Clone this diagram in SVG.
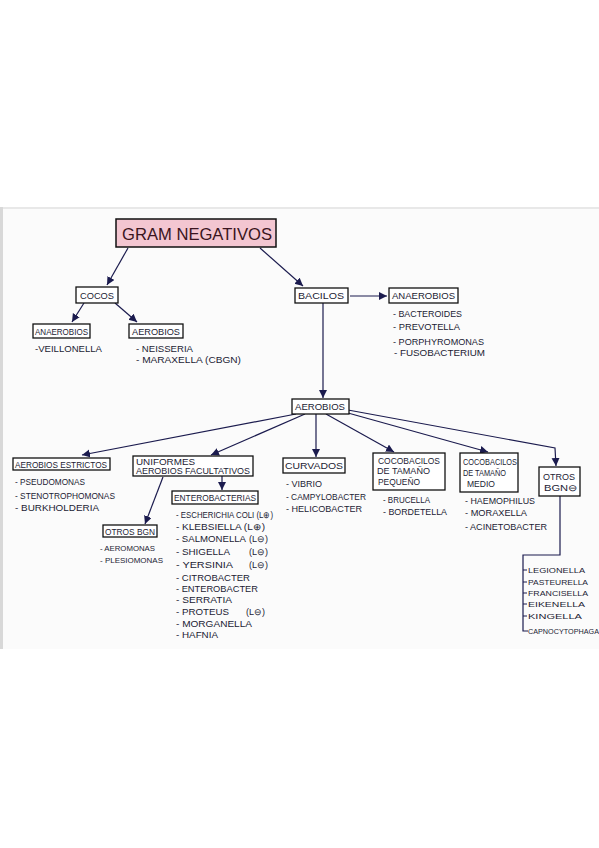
<svg xmlns="http://www.w3.org/2000/svg" width="599" height="848" viewBox="0 0 599 848">
<defs>
<marker id="ah" markerUnits="userSpaceOnUse" markerWidth="9" markerHeight="9" refX="8" refY="4" orient="auto">
<path d="M0,0 L8,4 L0,8 z" fill="#1b1b4e"/>
</marker>
<style>
.box{fill:#fff;stroke:#111;stroke-width:1.3}
.t{font-family:"Liberation Sans",Arial,sans-serif;font-size:9px;fill:#1c1c34}
.c{fill:none;stroke:#1b1b4e;stroke-width:1.2;marker-end:url(#ah)}
.l{fill:none;stroke:#1b1b4e;stroke-width:1.2}
</style>
</defs>
<rect x="0" y="0" width="599" height="848" fill="#fff"/>
<rect x="0" y="207" width="599" height="442" fill="#fbfbfb"/>
<line x1="0" y1="208" x2="599" y2="208" stroke="#e2e2e2" stroke-width="1.5"/>
<rect x="0" y="207" width="3" height="442" fill="#d8d8d8"/>

<g id="connectors">
<path class="c" d="M128,248 L107,285"/>
<path class="c" d="M260,248 L303,286"/>
<path class="c" d="M84,303 L72,322"/>
<path class="c" d="M115,303 L137,322"/>
<path class="c" d="M350,296 L387,296"/>
<path class="c" d="M323,303 L323,398"/>
<path class="c" d="M296,414 L82,455"/>
<path class="c" d="M305,414 L211,455"/>
<path class="c" d="M316,414 L316,457"/>
<path class="c" d="M326,414 L394,452"/>
<path class="c" d="M348,413 L488,452"/>
<path class="c" d="M348,410 L555,448 L556,466"/>
<path class="c" d="M222,476 L222,490"/>
<path class="c" d="M163,477 L145,524"/>
<path class="l" d="M560,496 L560,555 L523,555 L523,631 L528,631"/>
<path class="l" d="M523,570 L527,570 M523,582 L527,582 M523,593 L527,593 M523,604 L527,604 M523,616 L527,616"/>
</g>

<g id="gram-negativos">
<rect x="116" y="219" width="160" height="28" fill="#f3c6d1" stroke="#111" stroke-width="1.5"/>
<text x="122" y="240" style="font-family:'Liberation Sans',Arial,sans-serif;font-size:17px;fill:#3a1420" textLength="150" lengthAdjust="spacingAndGlyphs">GRAM NEGATIVOS</text>
</g>

<g id="cocos">
<rect class="box" x="76" y="287" width="42" height="16"/>
<text class="t" x="80" y="299" textLength="34" lengthAdjust="spacingAndGlyphs">COCOS</text>
</g>

<g id="bacilos">
<rect class="box" x="295" y="288" width="53" height="15"/>
<text class="t" x="298" y="299" textLength="46" lengthAdjust="spacingAndGlyphs">BACILOS</text>
</g>

<g id="anaerobios-bacilos">
<rect class="box" x="389" y="288" width="69" height="15"/>
<text class="t" x="392" y="299" textLength="63" lengthAdjust="spacingAndGlyphs">ANAEROBIOS</text>
<text class="t" x="393" y="317" textLength="69" lengthAdjust="spacingAndGlyphs">- BACTEROIDES</text>
<text class="t" x="393" y="330" textLength="67" lengthAdjust="spacingAndGlyphs">- PREVOTELLA</text>
<text class="t" x="393" y="345" textLength="91" lengthAdjust="spacingAndGlyphs">- PORPHYROMONAS</text>
<text class="t" x="394" y="356" textLength="91" lengthAdjust="spacingAndGlyphs">- FUSOBACTERIUM</text>
</g>

<g id="anaerobios-cocos">
<rect class="box" x="33" y="324" width="57" height="14"/>
<text class="t" x="35" y="335" textLength="53" lengthAdjust="spacingAndGlyphs">ANAEROBIOS</text>
<text class="t" x="35" y="352" textLength="67" lengthAdjust="spacingAndGlyphs">-VEILLONELLA</text>
</g>

<g id="aerobios-cocos">
<rect class="box" x="129" y="324" width="54" height="14"/>
<text class="t" x="132" y="335" textLength="48" lengthAdjust="spacingAndGlyphs">AEROBIOS</text>
<text class="t" x="136" y="352" textLength="57" lengthAdjust="spacingAndGlyphs">- NEISSERIA</text>
<text class="t" x="136" y="363" textLength="105" lengthAdjust="spacingAndGlyphs">- MARAXELLA (CBGN)</text>
</g>

<g id="aerobios-bacilos">
<rect class="box" x="292" y="399" width="57" height="15"/>
<text class="t" x="295" y="410" textLength="50" lengthAdjust="spacingAndGlyphs">AEROBIOS</text>
</g>

<g id="aerobios-estrictos">
<rect class="box" x="13" y="458" width="97" height="12"/>
<text class="t" x="15" y="468" textLength="92" lengthAdjust="spacingAndGlyphs">AEROBIOS ESTRICTOS</text>
<text class="t" x="15" y="485" textLength="70" lengthAdjust="spacingAndGlyphs">- PSEUDOMONAS</text>
<text class="t" x="15" y="499" textLength="100" lengthAdjust="spacingAndGlyphs">- STENOTROPHOMONAS</text>
<text class="t" x="15" y="511" textLength="84" lengthAdjust="spacingAndGlyphs">- BURKHOLDERIA</text>
</g>

<g id="uniformes">
<rect class="box" x="133" y="456" width="120" height="20"/>
<text class="t" x="136" y="465" textLength="59" lengthAdjust="spacingAndGlyphs">UNIFORMES</text>
<text class="t" x="136" y="474" textLength="114" lengthAdjust="spacingAndGlyphs">AEROBIOS FACULTATIVOS</text>
</g>

<g id="enterobacterias">
<rect class="box" x="172" y="491" width="86" height="13"/>
<text class="t" x="174" y="501" textLength="82" lengthAdjust="spacingAndGlyphs">ENTEROBACTERIAS</text>
<text class="t" x="176" y="518" textLength="97" lengthAdjust="spacingAndGlyphs">- ESCHERICHIA COLI (L⊕)</text>
<text class="t" x="176" y="530" textLength="89" lengthAdjust="spacingAndGlyphs">- KLEBSIELLA (L⊕)</text>
<text class="t" x="176" y="542" textLength="70" lengthAdjust="spacingAndGlyphs">- SALMONELLA</text>
<text class="t" x="249" y="542">(L⊖)</text>
<text class="t" x="176" y="555" textLength="54" lengthAdjust="spacingAndGlyphs">- SHIGELLA</text>
<text class="t" x="249" y="555">(L⊖)</text>
<text class="t" x="176" y="568" textLength="57" lengthAdjust="spacingAndGlyphs">- YERSINIA</text>
<text class="t" x="249" y="568">(L⊖)</text>
<text class="t" x="176" y="581" textLength="74" lengthAdjust="spacingAndGlyphs">- CITROBACTER</text>
<text class="t" x="176" y="592" textLength="82" lengthAdjust="spacingAndGlyphs">- ENTEROBACTER</text>
<text class="t" x="176" y="603" textLength="56" lengthAdjust="spacingAndGlyphs">- SERRATIA</text>
<text class="t" x="176" y="615" textLength="53" lengthAdjust="spacingAndGlyphs">- PROTEUS</text>
<text class="t" x="246" y="615">(L⊖)</text>
<text class="t" x="176" y="627" textLength="76" lengthAdjust="spacingAndGlyphs">- MORGANELLA</text>
<text class="t" x="176" y="638" textLength="42" lengthAdjust="spacingAndGlyphs">- HAFNIA</text>
</g>

<g id="otros-bgn">
<rect class="box" x="103" y="525" width="54" height="12"/>
<text class="t" x="105" y="535" textLength="50" lengthAdjust="spacingAndGlyphs">OTROS BGN</text>
<text class="t" x="100" y="551" style="font-size:8px" textLength="55" lengthAdjust="spacingAndGlyphs">- AEROMONAS</text>
<text class="t" x="100" y="563" style="font-size:8px" textLength="63" lengthAdjust="spacingAndGlyphs">- PLESIOMONAS</text>
</g>

<g id="curvados">
<rect class="box" x="283" y="458" width="62" height="15"/>
<text class="t" x="285" y="469" textLength="58" lengthAdjust="spacingAndGlyphs">CURVADOS</text>
<text class="t" x="286" y="487" textLength="36" lengthAdjust="spacingAndGlyphs">- VIBRIO</text>
<text class="t" x="286" y="500" textLength="80" lengthAdjust="spacingAndGlyphs">- CAMPYLOBACTER</text>
<text class="t" x="286" y="512" textLength="76" lengthAdjust="spacingAndGlyphs">- HELICOBACTER</text>
</g>

<g id="cocobacilos-pequeno">
<rect class="box" x="373" y="453" width="72" height="37"/>
<text class="t" x="378" y="464" textLength="62" lengthAdjust="spacingAndGlyphs">COCOBACILOS</text>
<text class="t" x="377" y="474" textLength="53" lengthAdjust="spacingAndGlyphs">DE TAMAÑO</text>
<text class="t" x="378" y="485" textLength="42" lengthAdjust="spacingAndGlyphs">PEQUEÑO</text>
<text class="t" x="383" y="503" textLength="47" lengthAdjust="spacingAndGlyphs">- BRUCELLA</text>
<text class="t" x="383" y="515" textLength="64" lengthAdjust="spacingAndGlyphs">- BORDETELLA</text>
</g>

<g id="cocobacilos-medio">
<rect class="box" x="460" y="453" width="58" height="39"/>
<text class="t" x="463" y="465" textLength="54" lengthAdjust="spacingAndGlyphs">COCOBACILOS</text>
<text class="t" x="463" y="476" textLength="43" lengthAdjust="spacingAndGlyphs">DE TAMAÑO</text>
<text class="t" x="467" y="487" textLength="28" lengthAdjust="spacingAndGlyphs">MEDIO</text>
<text class="t" x="465" y="504" textLength="70" lengthAdjust="spacingAndGlyphs">- HAEMOPHILUS</text>
<text class="t" x="465" y="516" textLength="62" lengthAdjust="spacingAndGlyphs">- MORAXELLA</text>
<text class="t" x="465" y="530" textLength="82" lengthAdjust="spacingAndGlyphs">- ACINETOBACTER</text>
</g>

<g id="otros-bgn-neg">
<rect class="box" x="539" y="467" width="41" height="29"/>
<text class="t" x="543" y="480" textLength="32" lengthAdjust="spacingAndGlyphs">OTROS</text>
<text class="t" x="544" y="491" textLength="34" lengthAdjust="spacingAndGlyphs">BGN⊖</text>
<text class="t" x="528" y="573" style="font-size:8px" textLength="57" lengthAdjust="spacingAndGlyphs">LEGIONELLA</text>
<text class="t" x="528" y="585" style="font-size:8px" textLength="60" lengthAdjust="spacingAndGlyphs">PASTEURELLA</text>
<text class="t" x="528" y="596" style="font-size:8px" textLength="60" lengthAdjust="spacingAndGlyphs">FRANCISELLA</text>
<text class="t" x="528" y="607" style="font-size:8px" textLength="57" lengthAdjust="spacingAndGlyphs">EIKENELLA</text>
<text class="t" x="528" y="619" style="font-size:8px" textLength="54" lengthAdjust="spacingAndGlyphs">KINGELLA</text>
<text class="t" x="528" y="634" style="font-size:7px" textLength="71" lengthAdjust="spacingAndGlyphs">CAPNOCYTOPHAGA</text>
</g>
</svg>
